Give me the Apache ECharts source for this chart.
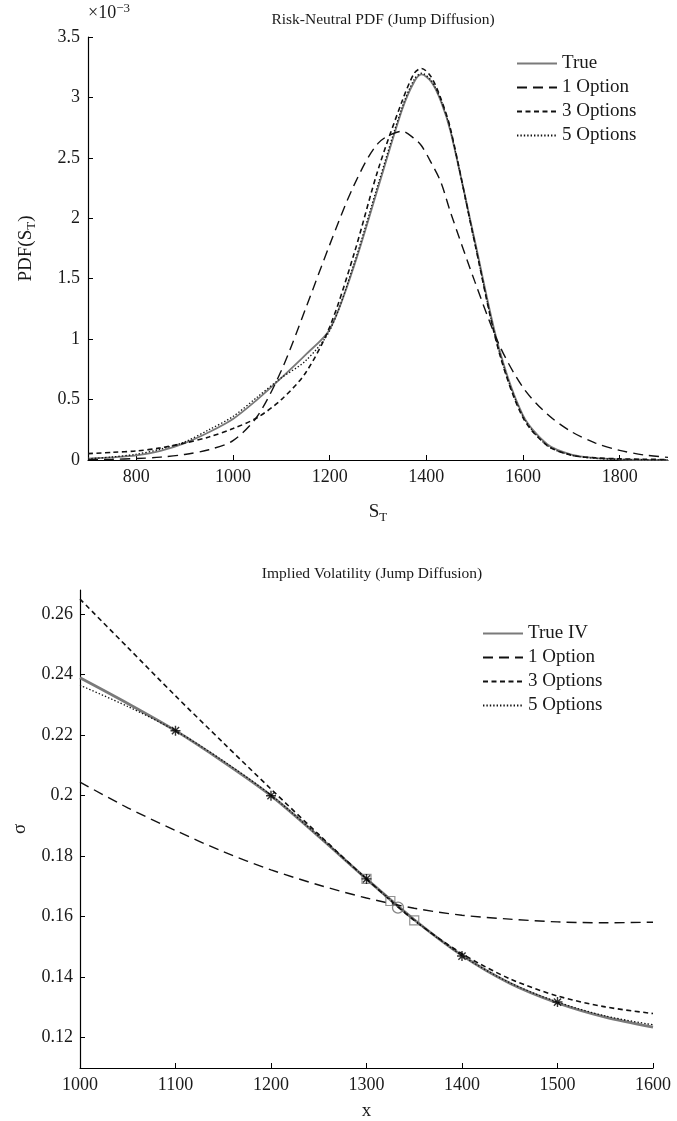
<!DOCTYPE html>
<html>
<head>
<meta charset="utf-8">
<script src="https://cdn.jsdelivr.net/npm/echarts@6/dist/echarts.min.js"></script>
<style>
  html, body { margin: 0; padding: 0; background: #fff; }
  #top { position: absolute; left: 0; top: 0; width: 677px; height: 550px; }
  #bottom { position: absolute; left: 0; top: 550px; width: 677px; height: 571px; }
</style>
</head>
<body>
<div id="top"></div>
<div id="bottom"></div>
<script>
// risk-neutral density (x1e-3) against terminal price
var sGrid = [700, 750, 800, 850, 900, 950, 1000, 1050, 1100, 1150, 1200, 1250, 1300, 1350, 1375, 1390, 1410, 1430, 1450, 1500, 1550, 1600, 1650, 1700, 1750, 1800, 1850, 1900];
var pdfTrue = [0.012, 0.022, 0.038, 0.075, 0.14, 0.23, 0.34, 0.5, 0.68, 0.87, 1.08, 1.6, 2.25, 2.9, 3.13, 3.19, 3.13, 2.97, 2.72, 1.82, 0.93, 0.37, 0.13, 0.045, 0.016, 0.006, 0.002, 0.001];
var pdf1 = [0.003, 0.006, 0.012, 0.024, 0.046, 0.085, 0.16, 0.36, 0.74, 1.25, 1.78, 2.27, 2.62, 2.72, 2.66, 2.6, 2.46, 2.3, 2.05, 1.48, 0.96, 0.6, 0.38, 0.235, 0.14, 0.08, 0.042, 0.022];
var pdf3 = [0.053, 0.063, 0.075, 0.1, 0.14, 0.19, 0.26, 0.35, 0.5, 0.72, 1.1, 1.7, 2.4, 2.97, 3.2, 3.24, 3.17, 2.99, 2.74, 1.8, 0.9, 0.35, 0.12, 0.04, 0.018, 0.01, 0.006, 0.004];
var pdf5 = [0.01, 0.025, 0.048, 0.09, 0.15, 0.25, 0.36, 0.52, 0.68, 0.82, 1.07, 1.62, 2.28, 2.92, 3.15, 3.2, 3.14, 2.98, 2.73, 1.8, 0.91, 0.36, 0.12, 0.04, 0.014, 0.005, 0.002, 0.001];
var sTicks = [800, 1000, 1200, 1400, 1600, 1800];

// implied vol against strike
var kGrid = [1000, 1050, 1100, 1150, 1200, 1250, 1300, 1350, 1400, 1450, 1500, 1550, 1600];
var ivTrue = [0.239, 0.2305, 0.2215, 0.2112, 0.2, 0.1865, 0.1725, 0.159, 0.1472, 0.138, 0.1315, 0.1268, 0.1235];
var iv1 = [0.2045, 0.196, 0.1885, 0.1815, 0.1755, 0.1705, 0.1662, 0.1628, 0.1605, 0.1592, 0.1583, 0.158, 0.1582];
var iv3 = [0.265, 0.249, 0.233, 0.2175, 0.2022, 0.1872, 0.1725, 0.1588, 0.1478, 0.1395, 0.1338, 0.1302, 0.128];
var iv5 = [0.2365, 0.2295, 0.2215, 0.2115, 0.2002, 0.1866, 0.1725, 0.159, 0.1472, 0.1382, 0.1318, 0.1272, 0.1243];
var starK = [1100, 1200, 1300, 1400, 1500];
var starIV = [0.2215, 0.2, 0.1725, 0.147, 0.1318];
var squareK = [1300, 1325, 1350];
var squareIV = [0.1725, 0.1652, 0.1588];
var circleK = [1333];
var circleIV = [0.163];
var ivTicks = [0.12, 0.14, 0.16, 0.18, 0.2, 0.22, 0.24, 0.26];

var FONT = "'Liberation Serif', 'DejaVu Serif', serif";
var INK = '#1a1a1a';

function pairs(xs, ys) {
	return xs.map(function (x, i) { return [x, ys[i]]; });
}

function lineSeries(name, xs, ys, color, width, type) {
	return {
		name: name,
		type: 'line',
		data: pairs(xs, ys),
		smooth: 0.3,
		symbol: 'none',
		lineStyle: { color: color, width: width, type: type, cap: 'butt' },
		itemStyle: { color: color },
		z: 3
	};
}

function plain(v) { return String(v); }

function baseAxis(extra) {
	var ax = {
		axisLine: { show: true, lineStyle: { color: '#000', width: 1.2 } },
		axisTick: { show: true, inside: true, length: 5, lineStyle: { color: '#000', width: 1 } },
		axisLabel: { color: INK, fontFamily: FONT, fontSize: 18 },
		splitLine: { show: false },
		nameTextStyle: { color: INK, fontFamily: FONT, fontSize: 19 }
	};
	for (var k in extra) ax[k] = extra[k];
	return ax;
}

var legendBase = {
	orient: 'vertical',
	itemWidth: 40,
	itemHeight: 14,
	itemGap: 5,
	itemStyle: { opacity: 0 },
	textStyle: { color: INK, fontFamily: FONT, fontSize: 19 },
	selectedMode: false
};

var topChart = echarts.init(document.getElementById('top'));
topChart.setOption({
	animation: false,
	title: {
		text: 'Risk-Neutral PDF (Jump Diffusion)',
		left: 378, top: 7, textAlign: 'center',
		textStyle: { color: INK, fontFamily: FONT, fontSize: 15.5, fontWeight: 'normal' }
	},
	legend: Object.assign({}, legendBase, {
		left: 511, top: 49,
		data: ['True', '1 Option', '3 Options', '5 Options']
	}),
	grid: { left: 88, right: 9, top: 37, bottom: 90, outerBoundsMode: 'none' },
	xAxis: baseAxis({
		type: 'value', min: 700, max: 1900,
		axisTick: { show: true, inside: true, length: 5, customValues: sTicks, lineStyle: { color: '#000' } },
		axisLabel: { color: INK, fontFamily: FONT, fontSize: 18, margin: 8, customValues: sTicks, formatter: plain },
		name: '{a|S}{b|T}', nameLocation: 'middle', nameGap: 40,
		nameTextStyle: {
			rich: {
				a: { fontFamily: FONT, fontSize: 19, color: INK },
				b: { fontFamily: FONT, fontSize: 13, color: INK, padding: [11, 0, 0, 0] }
			}
		}
	}),
	yAxis: baseAxis({
		type: 'value', min: 0, max: 3.5, interval: 0.5,
		axisLabel: { color: INK, fontFamily: FONT, fontSize: 18, margin: 8 },
		name: '{a|PDF(S}{b|T}{a|)}', nameLocation: 'middle', nameGap: 50,
		nameTextStyle: {
			rich: {
				a: { fontFamily: FONT, fontSize: 19, color: INK },
				b: { fontFamily: FONT, fontSize: 13, color: INK, padding: [11, 0, 0, 0] }
			}
		}
	}),
	graphic: [{
		type: 'text', left: 88, top: 2,
		style: {
			text: '{a|×10}{b|−3}',
			rich: {
				a: { fontFamily: FONT, fontSize: 18, fill: INK },
				b: { fontFamily: FONT, fontSize: 13, fill: INK, padding: [0, 0, 10, 0] }
			}
		}
	}],
	series: [
		lineSeries('True', sGrid, pdfTrue, '#7a7a7a', 1.8, 'solid'),
		lineSeries('1 Option', sGrid, pdf1, '#111', 1.4, [10, 6]),
		lineSeries('3 Options', sGrid, pdf3, '#111', 1.6, [5, 3.5]),
		lineSeries('5 Options', sGrid, pdf5, '#111', 1.3, [1.4, 2])
	]
});

var asterisk = 'path://M0,-5L0,5M-5,0L5,0M-3.6,-3.6L3.6,3.6M-3.6,3.6L3.6,-3.6';

var bottomChart = echarts.init(document.getElementById('bottom'));
bottomChart.setOption({
	animation: false,
	title: {
		text: 'Implied Volatility (Jump Diffusion)',
		left: 367, top: 11, textAlign: 'center',
		textStyle: { color: INK, fontFamily: FONT, fontSize: 15.5, fontWeight: 'normal' }
	},
	legend: Object.assign({}, legendBase, {
		left: 477, top: 69,
		data: ['True IV', '1 Option', '3 Options', '5 Options']
	}),
	grid: { left: 80, right: 24, top: 40, bottom: 53, outerBoundsMode: 'none' },
	xAxis: baseAxis({
		type: 'value', min: 1000, max: 1600, interval: 100,
		axisLabel: { color: INK, fontFamily: FONT, fontSize: 18, margin: 8, formatter: plain },
		name: 'x', nameLocation: 'middle', nameGap: 34
	}),
	yAxis: baseAxis({
		type: 'value', min: 0.11, max: 0.268,
		axisTick: { show: true, inside: true, length: 5, customValues: ivTicks, lineStyle: { color: '#000' } },
		axisLabel: {
			color: INK, fontFamily: FONT, fontSize: 18, margin: 7, customValues: ivTicks,
			formatter: function (v) { return String(+v.toFixed(2)); }
		},
		name: 'σ', nameLocation: 'middle', nameGap: 50
	}),
	series: [
		lineSeries('True IV', kGrid, ivTrue, '#7a7a7a', 2.8, 'solid'),
		lineSeries('1 Option', kGrid, iv1, '#111', 1.4, [10, 6]),
		lineSeries('3 Options', kGrid, iv3, '#111', 1.6, [5, 3.5]),
		lineSeries('5 Options', kGrid, iv5, '#111', 1.3, [1.4, 2]),
		{
			type: 'scatter', data: pairs(squareK, squareIV), symbol: 'rect', symbolSize: 9,
			itemStyle: { color: 'rgba(255,255,255,0)', borderColor: '#777', borderWidth: 1.2 }, z: 4
		},
		{
			type: 'scatter', data: pairs(circleK, circleIV), symbol: 'circle', symbolSize: 11,
			itemStyle: { color: 'rgba(255,255,255,0)', borderColor: '#666', borderWidth: 1.3 }, z: 4
		},
		{
			type: 'scatter', data: pairs(starK, starIV), symbol: asterisk, symbolSize: 10,
			itemStyle: { color: 'rgba(0,0,0,0)', borderColor: '#000', borderWidth: 1.4 }, z: 5
		}
	]
});
</script>
</body>
</html>
